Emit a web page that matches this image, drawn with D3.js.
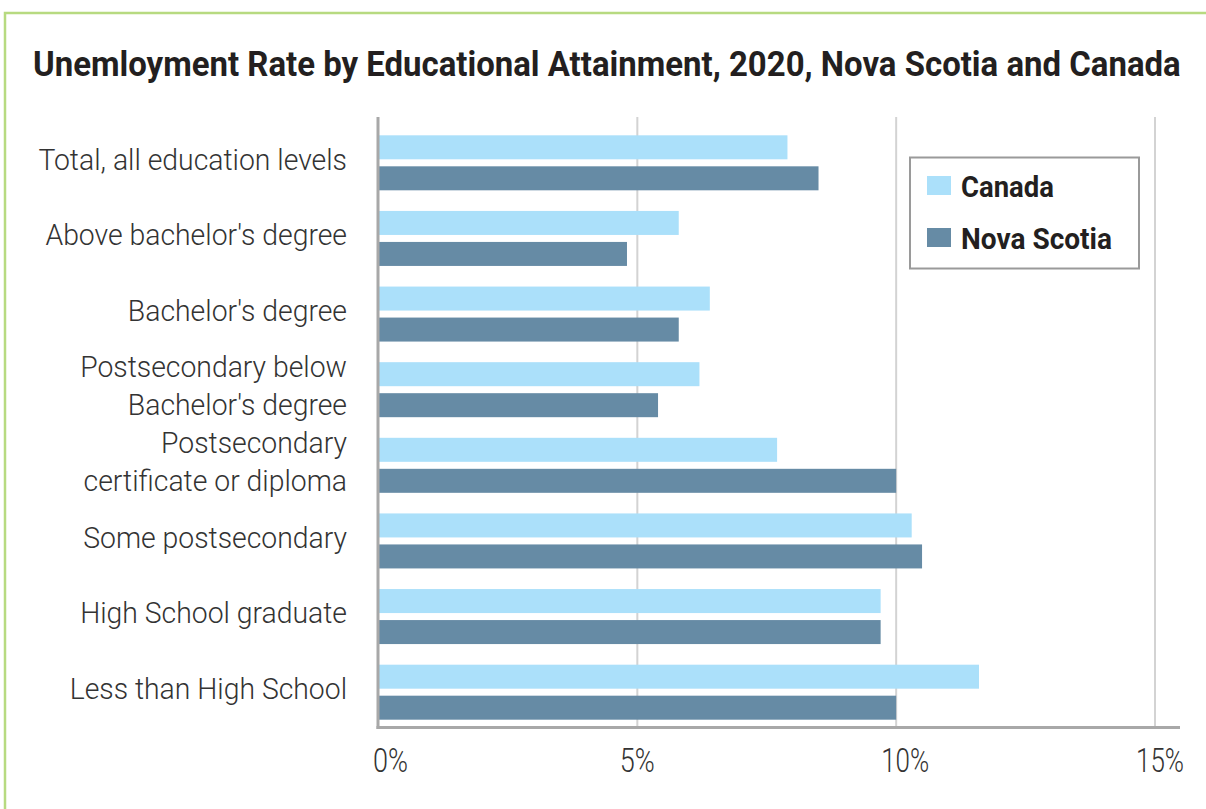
<!DOCTYPE html>
<html>
<head>
<meta charset="utf-8">
<script src="https://cdn.jsdelivr.net/npm/d3@7"></script>
<style>
  body { margin: 0; background: #fff; }
  svg { display: block; }
</style>
</head>
<body>
<svg id="chart" width="1206" height="809"></svg>
<script>
const categories = [
    "Total, all education levels",
    "Above bachelor's degree",
    "Bachelor's degree",
    "Postsecondary below\nBachelor's degree",
    "Postsecondary\ncertificate or diploma",
    "Some postsecondary",
    "High School graduate",
    "Less than High School"
]
const series = ["Canada", "Nova Scotia"]
const canada = [7.9, 5.8, 6.4, 6.2, 7.7, 10.3, 9.7, 11.6]
const novaScotia = [8.5, 4.8, 5.8, 5.4, 10.0, 10.5, 9.7, 10.0]
const xTicks = [0, 5, 10, 15]
const colors = ["#abe0fa", "#668ba5"]

const data = categories.map((c, i) => ({ cat: c, values: [canada[i], novaScotia[i]] }))

const svg = d3.select("#chart")

// frame
svg.append("rect")
    .attr("x", 5).attr("y", 13)
    .attr("width", 1220).attr("height", 820)
    .attr("fill", "none")
    .attr("stroke", "#b7da80")
    .attr("stroke-width", 2.5)

// title, squeezed to the width of the condensed original
const title = svg.append("text")
    .text("Unemloyment Rate by Educational Attainment, 2020, Nova Scotia and Canada")
    .attr("font-family", "Roboto, sans-serif")
    .attr("font-weight", 700)
    .attr("font-size", 36)
    .attr("fill", "#231f20")
const tw = title.node().getComputedTextLength()
title.attr("transform", `translate(33, 76) scale(${1148 / tw}, 1)`)

const xScale = d3.scaleLinear().domain([0, 15]).range([378.5, 1155])
const yScale = d3.scaleBand().domain(categories).range([125, 730])
const bw = yScale.bandwidth()
const inner = d3.scaleBand().domain(series)
    .range([(bw - 55) / 2, (bw + 55) / 2])
    .paddingInner(2 - 55 / 31)

// gridlines
svg.append("g").selectAll("line")
    .data(xTicks.slice(1))
    .join("line")
    .attr("x1", d => xScale(d)).attr("x2", d => xScale(d))
    .attr("y1", 117).attr("y2", 727)
    .attr("stroke", "#d3d3d3")
    .attr("stroke-width", 2)

// bars
const groups = svg.append("g").selectAll("g")
    .data(data)
    .join("g")
    .attr("transform", d => `translate(0, ${yScale(d.cat)})`)
groups.selectAll("rect")
    .data(d => d.values.map((v, j) => ({ s: series[j], v: v, j: j })))
    .join("rect")
    .attr("x", xScale(0))
    .attr("y", d => inner(d.s))
    .attr("width", d => xScale(d.v) - xScale(0))
    .attr("height", inner.bandwidth())
    .attr("fill", d => colors[d.j])

// axes lines
svg.append("line")
    .attr("x1", 378).attr("x2", 378)
    .attr("y1", 117).attr("y2", 729)
    .attr("stroke", "#a8a8a8").attr("stroke-width", 3)
svg.append("line")
    .attr("x1", 376.5).attr("x2", 1180)
    .attr("y1", 727.5).attr("y2", 727.5)
    .attr("stroke", "#a8a8a8").attr("stroke-width", 3)

// category labels
const labels = svg.append("g").selectAll("text")
    .data(categories)
    .join("text")
    .attr("text-anchor", "end")
    .attr("font-family", "Roboto, sans-serif")
    .attr("font-weight", 300)
    .attr("font-size", 30)
    .attr("fill", "#333")
    .attr("transform", d => `translate(347, ${yScale(d) + bw / 2 - 4}) scale(0.945, 1)`)
labels.each(function(d) {
    const lines = d.split("\n")
    const t = d3.select(this)
    lines.forEach((ln, k) => {
        t.append("tspan")
            .attr("x", 0)
            .attr("y", (k - (lines.length - 1) / 2) * 38)
            .attr("dy", "0.36em")
            .text(ln)
    })
})

// x tick labels
svg.append("g").selectAll("text")
    .data(xTicks)
    .join("text")
    .text(d => d + "%")
    .attr("x", d => xScale(d) + (d === 0 ? 12 : d === 10 ? 9 : d === 15 ? 5 : 0))
    .attr("y", 772)
    .attr("text-anchor", "middle")
    .attr("font-family", "Roboto, sans-serif")
    .attr("font-weight", 300)
    .attr("font-size", 33)
    .attr("fill", "#333")
    .attr("textLength", d => d < 10 ? 35 : 48)
    .attr("lengthAdjust", "spacingAndGlyphs")

// legend
const legend = svg.append("g")
legend.append("rect")
    .attr("x", 910).attr("y", 157.5)
    .attr("width", 229).attr("height", 111)
    .attr("fill", "#fff")
    .attr("stroke", "#9a9a9a").attr("stroke-width", 2)
const items = legend.selectAll("g.item")
    .data(series)
    .join("g")
    .attr("class", "item")
    .attr("transform", (d, i) => `translate(927, ${176 + i * 52})`)
items.append("rect")
    .attr("width", 24).attr("height", 19)
    .attr("fill", (d, i) => colors[i])
items.append("text")
    .text(d => d)
    .attr("x", 34).attr("y", 21)
    .attr("font-family", "Roboto, sans-serif")
    .attr("font-weight", 700)
    .attr("font-size", 30)
    .attr("fill", "#231f20")
    .attr("textLength", (d, i) => i === 0 ? 93 : 151)
    .attr("lengthAdjust", "spacingAndGlyphs")
</script>
</body>
</html>
